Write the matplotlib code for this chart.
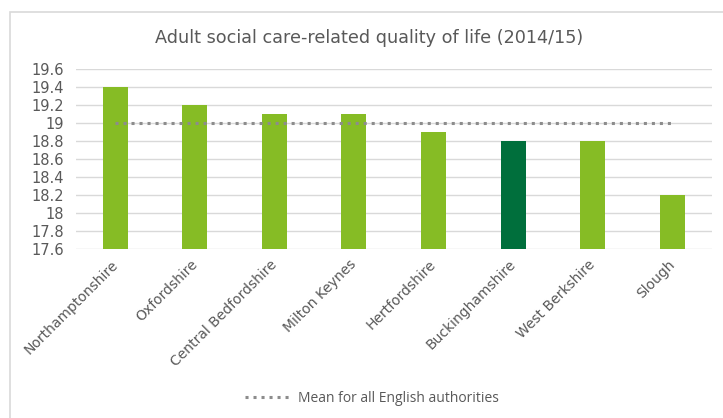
import matplotlib
matplotlib.use("Agg")
import matplotlib.pyplot as plt
import matplotlib.transforms as mtransforms
from matplotlib.patches import Rectangle
from matplotlib.lines import Line2D

categories = ["Northamptonshire", "Oxfordshire", "Central Bedfordshire", "Milton Keynes",
              "Hertfordshire", "Buckinghamshire", "West Berkshire", "Slough"]
values = [19.4, 19.2, 19.1, 19.1, 18.9, 18.8, 18.8, 18.2]
mean_value = 19.0
highlight = "Buckinghamshire"
yticks = [17.6, 17.8, 18.0, 18.2, 18.4, 18.6, 18.8, 19.0, 19.2, 19.4, 19.6]
ytick_labels = ["17.6", "17.8", "18", "18.2", "18.4", "18.6", "18.8", "19", "19.2", "19.4", "19.6"]

W, H = 723, 418
fig = plt.figure(figsize=(W / 100, H / 100), dpi=100)
fig.patch.set_facecolor("white")

# chart border (partially visible)
fig.add_artist(Rectangle((10 / W, -0.1), 1.2, (H - 12) / H + 0.1, transform=fig.transFigure,
                         fill=False, edgecolor="#d9d9d9", linewidth=1.2))

ax = fig.add_axes([75.5 / W, 1 - 249 / H, (712 - 75.5) / W, (249 - 69) / H])
colors = ["#006f3c" if c == highlight else "#86bc25" for c in categories]
x = list(range(len(categories)))
ax.bar(x, [v - 17.6 for v in values], bottom=17.6, width=0.315, color=colors, zorder=3)
dot_style = (0, (1, 1.62))
ax.plot([x[0], x[-1]], [mean_value, mean_value], linestyle=dot_style, color="#8c8c8c",
        linewidth=2.2, zorder=4)

ax.set_xlim(-0.5, len(categories) - 0.5)
ax.set_ylim(17.6, 19.6)
ax.set_yticks(yticks)
ax.set_yticklabels(ytick_labels)
ax.yaxis.grid(True, color="#d9d9d9", linewidth=1)
ax.set_axisbelow(True)
for s in ax.spines.values():
    s.set_visible(False)
ax.tick_params(axis="both", length=0, colors="#595959")
ax.tick_params(axis="y", labelsize=10.5, pad=8)
ax.set_xticks(x)
ax.set_xticklabels(categories, rotation=45, ha="right", rotation_mode="anchor",
                   fontsize=10, color="#595959")
ax.tick_params(axis="x", pad=6)
shift = mtransforms.ScaledTranslation(-4.5 / 100, 0, fig.dpi_scale_trans)
for lbl in ax.get_xticklabels():
    lbl.set_transform(lbl.get_transform() + shift)

fig.text(369 / W, 1 - 38 / H, "Adult social care-related quality of life (2014/15)",
         ha="center", va="center", fontsize=12.7, color="#595959")

handle = Line2D([], [], linestyle=dot_style, color="#8c8c8c", linewidth=2.2)
fig.legend([handle], ["Mean for all English authorities"], loc="center",
           bbox_to_anchor=(372 / W, 1 - 398 / H), frameon=False,
           prop={"family": "Open Sans", "size": 10}, labelcolor="#595959",
           handlelength=3.2, handletextpad=0.6)

fig.savefig("out.png", dpi=100, facecolor="white")
